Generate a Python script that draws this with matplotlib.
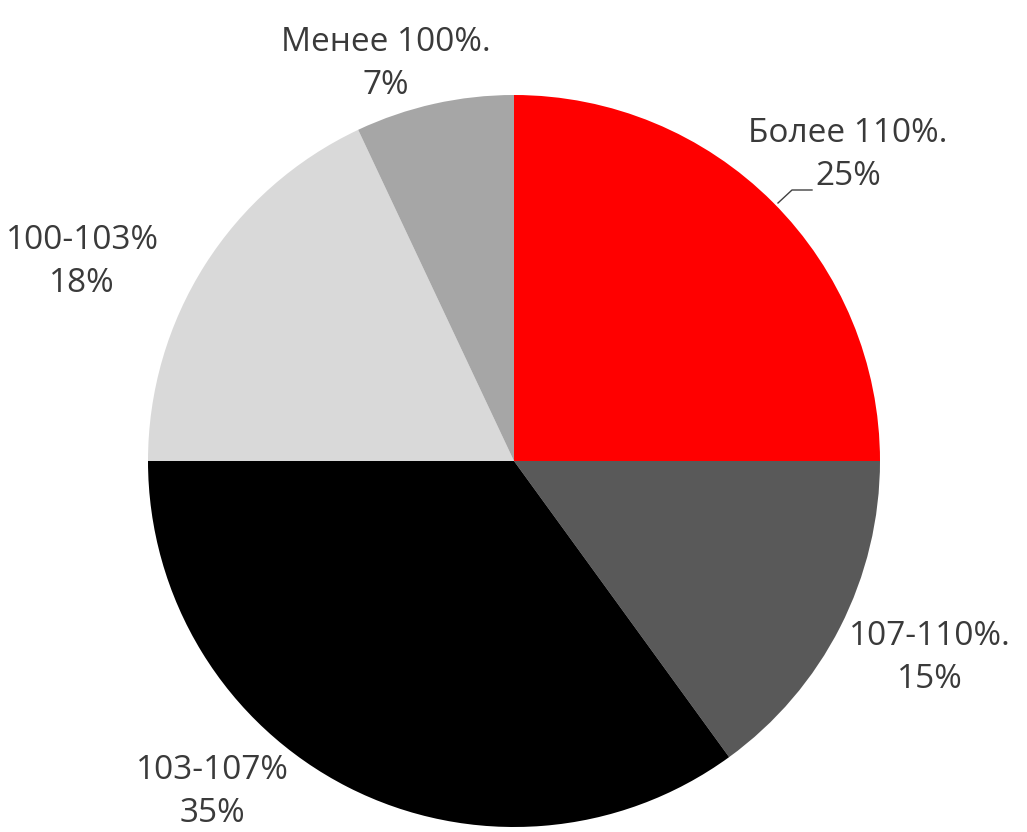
import matplotlib
matplotlib.use("Agg")
import matplotlib.pyplot as plt

# данные
labels = ["Более 110%.", "107-110%.", "103-107%", "100-103%", "Менее 100%."]
values = [25, 15, 35, 18, 7]
colors = ["#ff0000", "#595959", "#000000", "#d9d9d9", "#a6a6a6"]

# позиции подписей (в пикселях, y сверху)
label_pos = [(848, 155), (930, 658), (212, 792), (82, 262), (386, 64)]

plt.rcParams['font.family'] = ['Open Sans', 'DejaVu Sans']

W, H = 1027, 832
fig = plt.figure(figsize=(W / 100, H / 100), dpi=100)
ax = fig.add_axes([0, 0, 1, 1])

cx, cy, r = 514, H - 461, 366
ax.pie(values, colors=colors, startangle=90, counterclock=False,
       center=(cx, cy), radius=r, frame=True,
       wedgeprops=dict(linewidth=0))
ax.set_xlim(0, W)
ax.set_ylim(0, H)
ax.set_aspect('equal')
ax.axis('off')

for lab, v, (x, y) in zip(labels, values, label_pos):
    ax.text(x, H - y, f"{lab}\n{v}%", ha='center', va='center',
            fontsize=24, color='#3a3a3a', linespacing=1.4)

# выноска для 25%
ax.plot([778, 792, 812], [H - 203, H - 190, H - 190], color='#404040', lw=1)

fig.savefig("out.png", dpi=100)
